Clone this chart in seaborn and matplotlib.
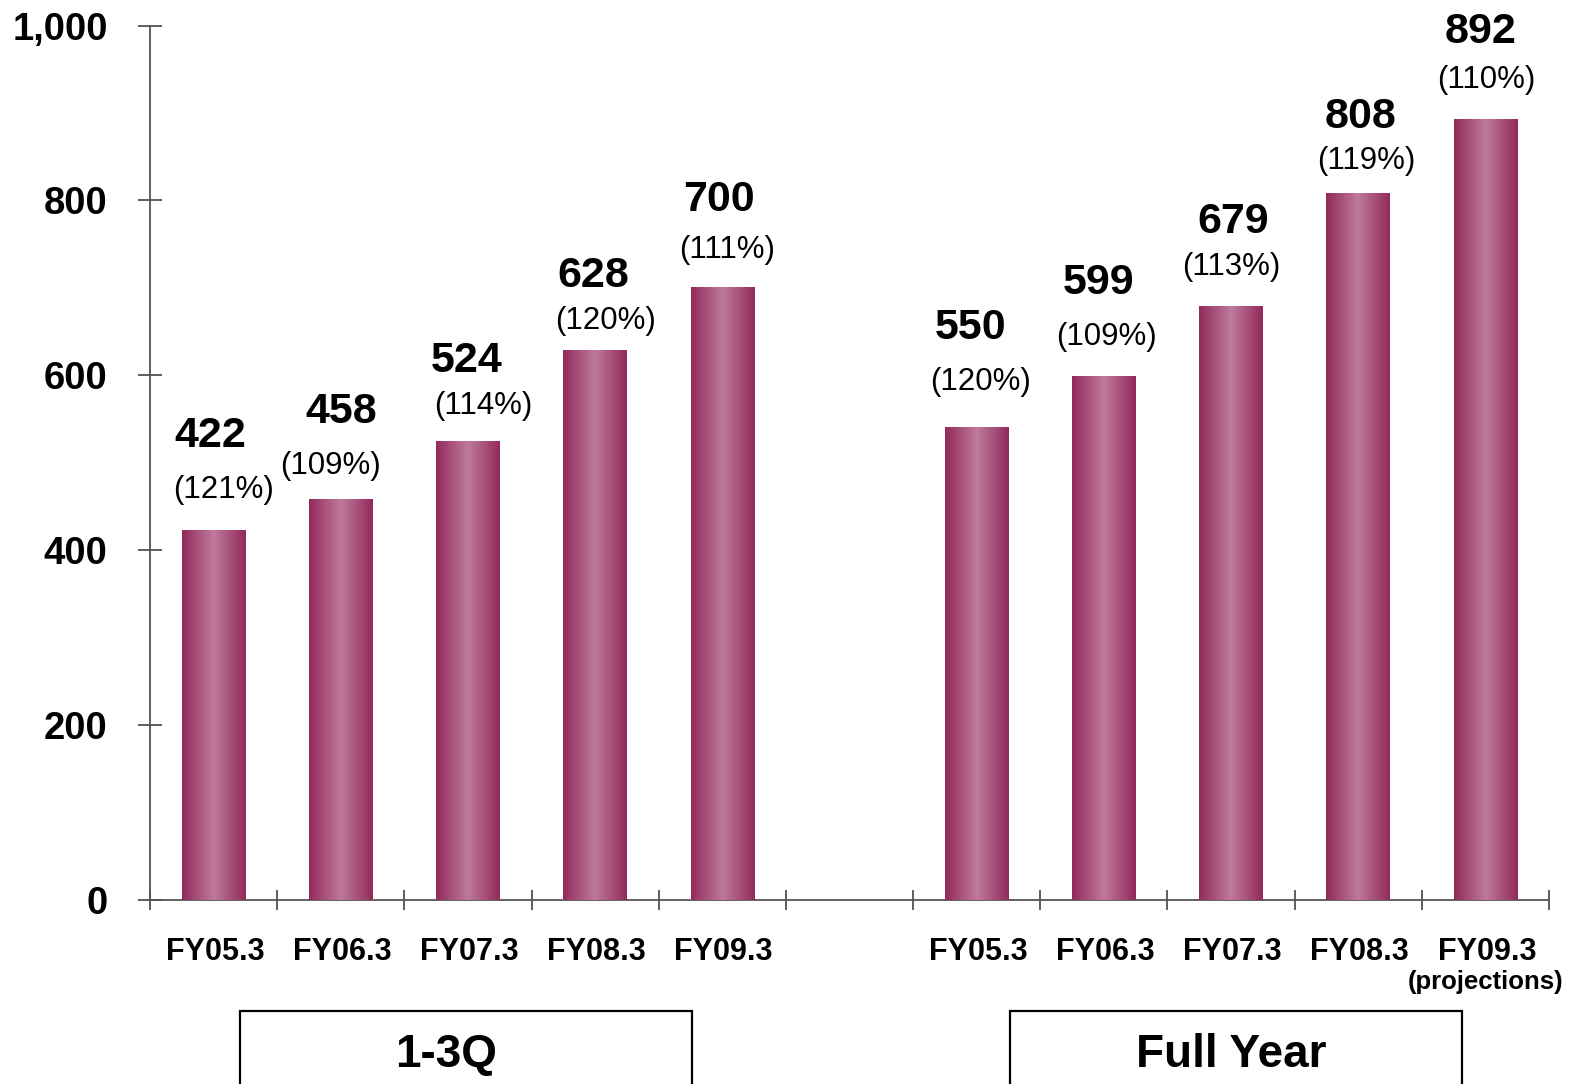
"""
Bar chart: 1-3Q vs full year, FY05.3 - FY09.3
"""
# %% Import libraries
import numpy as np
import pandas as pd
import seaborn as sns
import matplotlib.pyplot as plt
from matplotlib.colors import LinearSegmentedColormap
from matplotlib.patches import Rectangle

# %% Data
periods = ['FY05.3', 'FY06.3', 'FY07.3', 'FY08.3', 'FY09.3']
q13_values = [422, 458, 524, 628, 700]
q13_pct = ['(121%)', '(109%)', '(114%)', '(120%)', '(111%)']
full_values = [540, 599, 679, 808, 892]      # bar heights as drawn
full_labels = [550, 599, 679, 808, 892]      # printed numbers
full_pct = ['(120%)', '(109%)', '(113%)', '(119%)', '(110%)']
group_names = ['1-3Q', 'Full Year']
y_ticks = [0, 200, 400, 600, 800, 1000]

# label placement (pixels from bar top centre), as in the original slide
VAL_DX = [-3, 0, -1, -2, -3, -6, -5, 2, 2, -5]
VAL_DY = [95, 87, 81, 75, 88, 100, 93, 84, 76, 88]
PCT_DX = [10, -10, 15, 10, 5, 4, 3, 0, 8, 1]
PCT_DY = [41, 33, 36, 30, 38, 46, 39, 39, 32, 40]
PX = 0.72  # points per pixel at dpi 100

DARK = '#962d5f'
LIGHT = '#be7a9c'

# %% Build table
slots_q = [f'q_{p}' for p in periods]
slots_f = [f'f_{p}' for p in periods]
order = slots_q + ['gap'] + slots_f
df = pd.DataFrame({'slot': slots_q + slots_f,
                   'value': q13_values + full_values})
labels = [str(v) for v in q13_values] + [str(v) for v in full_labels]
heights = q13_values + full_values
pcts = q13_pct + full_pct
names = periods + periods
positions = [order.index(s) for s in slots_q + slots_f]

# %% Plot
sns.set_style('white')
plt.rcParams['font.family'] = ['Liberation Sans', 'DejaVu Sans']
plt.rcParams['text.color'] = 'black'
plt.rcParams['ytick.color'] = 'black'
plt.rcParams['xtick.color'] = 'black'

fig = plt.figure(figsize=(15.71, 10.84), dpi=100)
ax = fig.add_axes([150 / 1571, 1 - 900 / 1084, 1399 / 1571, 874.5 / 1084])

sns.barplot(df, x='slot', y='value', order=order, color=DARK,
            width=0.5, ax=ax, zorder=2)

# gradient overlay on each bar
cmap = LinearSegmentedColormap.from_list(
    'bar', [(0, '#922a5b'), (0.5, LIGHT), (1, '#922a5b')])
grad = np.linspace(0, 1, 256).reshape(1, -1)
for patch in ax.patches:
    x0, y0 = patch.get_x(), patch.get_y()
    w, h = patch.get_width(), patch.get_height()
    if np.isnan(h) or h == 0:
        continue
    ax.imshow(grad, cmap=cmap, extent=[x0, x0 + w, y0, y0 + h],
              aspect='auto', zorder=3, interpolation='bicubic')

ax.set_xlim(-0.5, 10.5)
ax.set_ylim(0, 1000)

# value labels
for i, (pos, lab, hgt, pct) in enumerate(zip(positions, labels, heights, pcts)):
    ax.annotate(lab, xy=(pos, hgt), xytext=(VAL_DX[i] * PX, VAL_DY[i] * PX),
                textcoords='offset points', ha='center', va='center',
                fontsize=31, fontweight='bold', annotation_clip=False)
    ax.annotate(pct, xy=(pos, hgt), xytext=(PCT_DX[i] * PX, PCT_DY[i] * PX),
                textcoords='offset points', ha='center', va='center',
                fontsize=22.5, annotation_clip=False)

# axes styling
for side in ['top', 'right']:
    ax.spines[side].set_visible(False)
for side in ['left', 'bottom']:
    ax.spines[side].set_color('#555555')
    ax.spines[side].set_linewidth(1.3)

ax.set_yticks(y_ticks)
ax.set_yticklabels([f'{t:,}' for t in y_ticks], fontsize=27.5,
                   fontweight='bold')
ax.tick_params(axis='y', direction='inout', length=17, width=1.2,
               color='#444444', labelcolor='black', pad=22, left=True)
ax.set_xticks(np.arange(-0.5, 11, 1))
ax.set_xticklabels([])
ax.tick_params(axis='x', direction='inout', length=14, width=1.2,
               color='#444444', bottom=True)
ax.set_xlabel('')
ax.set_ylabel('')

# category labels under the axis
for pos, name in zip(positions, names):
    ax.annotate(name, xy=(pos, 0), xycoords=('data', 'axes fraction'),
                xytext=(1, -52 * PX), textcoords='offset points',
                ha='center', va='center', fontsize=22, fontweight='bold',
                annotation_clip=False)
ax.annotate('(projections)', xy=(positions[-1], 0),
            xycoords=('data', 'axes fraction'), xytext=(0, -82 * PX),
            textcoords='offset points', ha='center', va='center',
            fontsize=18.5, fontweight='bold', annotation_clip=False)

# group boxes
for x0, xt, name in zip([240, 1010], [446, 1231], group_names):
    fig.patches.append(Rectangle((x0 / 1571, -0.02), 452 / 1571,
                                 (1084 - 1011) / 1084 + 0.02,
                                 transform=fig.transFigure, fill=False,
                                 edgecolor='black', linewidth=1.6))
    fig.text(xt / 1571, 1 - 1055 / 1084, name, ha='center',
             va='center', fontsize=33, fontweight='bold')

fig.savefig('out.png', dpi=100)
